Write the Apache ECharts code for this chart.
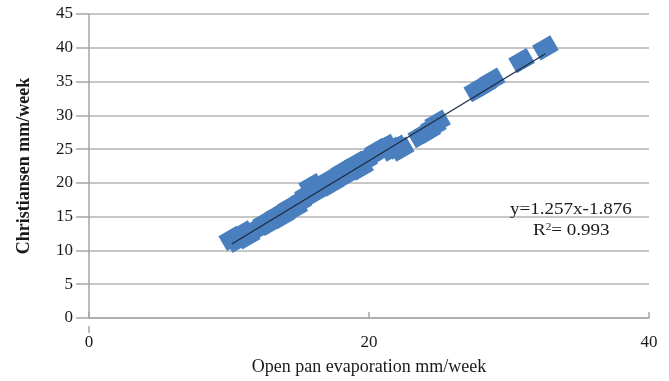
<!DOCTYPE html>
<html>
<head>
<meta charset="utf-8">
<script src="https://cdn.jsdelivr.net/npm/echarts@6/dist/echarts.min.js"></script>
<style>
  html, body { margin: 0; padding: 0; background: #fff; }
  #chart { width: 669px; height: 381px; }
</style>
</head>
<body>
<div id="chart"></div>
<script>
// Weekly evaporation: open pan (x) vs. Christiansen estimate (y), mm/week
const panEvap = [
  10.2, 10.6, 11.0, 11.3, 11.8, 12.3, 12.6, 12.9, 13.2, 13.5,
  13.8, 14.1, 14.4, 14.7, 15.0, 15.3, 15.6, 15.9, 16.1, 16.4,
  16.7, 17.0, 17.3, 17.6, 17.9, 18.2, 18.5, 18.8, 19.1, 19.4,
  19.7, 20.0, 20.3, 20.6, 20.9, 21.2, 21.6, 22.0, 22.3,
  23.7, 24.2, 24.6, 24.9,
  27.7, 28.2, 28.8,
  30.9, 32.6
];
const christiansen = [
  11.8, 11.5, 12.6, 12.0, 13.0, 13.5, 14.2, 14.0, 14.8, 15.3,
  15.0, 16.0, 16.5, 16.2, 17.0, 17.6, 18.3, 19.6, 18.5, 19.0,
  19.6, 20.3, 19.8, 20.6, 21.2, 21.8, 21.3, 22.5, 22.9, 22.2,
  23.2, 23.8, 24.2, 24.8, 25.0, 25.4, 25.0, 25.3, 25.0,
  27.0, 27.6, 28.3, 29.0,
  33.8, 34.4, 35.2,
  38.1, 40.0
];

// Fitted linear trend
const slope = 1.257;
const intercept = -1.876;
const rSquared = 0.993;
const trendRange = [10.2, 32.6];

const xTicks = [0, 20, 40];
const yTicks = [0, 5, 10, 15, 20, 25, 30, 35, 40, 45];

const points = panEvap.map((x, i) => [x, christiansen[i]]);
const trend = trendRange.map(x => [x, slope * x + intercept]);

const serif = '"Liberation Serif", "DejaVu Serif", serif';
const ink = '#1a1a1a';
const chart = echarts.init(document.getElementById('chart'), null, { renderer: 'canvas' });

chart.setOption({
  animation: false,
  backgroundColor: '#ffffff',
  grid: { left: 89, right: 20, top: 14, bottom: 55 },
  xAxis: {
    type: 'value',
    min: xTicks[0],
    max: xTicks[xTicks.length - 1],
    interval: xTicks[1] - xTicks[0],
    name: 'Open pan evaporation mm/week',
    nameLocation: 'middle',
    nameGap: 40,
    nameTextStyle: { fontFamily: serif, fontSize: 18, color: ink },
    axisLine: { show: true, onZero: false, lineStyle: { color: '#a6a6a6', width: 1.5 } },
    axisTick: { show: true, inside: true, length: 6, lineStyle: { color: '#a6a6a6', width: 1.5 } },
    axisLabel: { fontFamily: serif, fontSize: 17, color: ink, margin: 16 },
    splitLine: { show: false }
  },
  yAxis: {
    type: 'value',
    min: yTicks[0],
    max: yTicks[yTicks.length - 1],
    interval: yTicks[1] - yTicks[0],
    name: 'Christiansen mm/week',
    nameLocation: 'middle',
    nameGap: 56,
    nameTextStyle: { fontFamily: serif, fontSize: 18, fontWeight: 'bold', color: ink },
    axisLine: { show: true, onZero: false, lineStyle: { color: '#a6a6a6', width: 1.5 } },
    axisTick: { show: true, length: 13, lineStyle: { color: '#a6a6a6', width: 1.5 } },
    axisLabel: { fontFamily: serif, fontSize: 17, color: ink, margin: 16 },
    splitLine: { show: true, lineStyle: { color: '#b3b3b3', width: 1.5 } }
  },
  series: [
    {
      type: 'scatter',
      data: points,
      symbol: 'rect',
      symbolSize: [21, 17],
      symbolRotate: 30,
      itemStyle: { color: '#4a7fbf', opacity: 1 },
      z: 2
    },
    {
      type: 'line',
      data: trend,
      showSymbol: false,
      symbol: 'none',
      lineStyle: { color: '#1c2a3c', width: 1.2 },
      z: 3
    }
  ],
  graphic: [
    {
      // stub of the y axis below the x axis
      type: 'line',
      shape: { x1: 89, y1: 326, x2: 89, y2: 333 },
      style: { stroke: '#a6a6a6', lineWidth: 1.5 },
      z: 5
    },
    {
      type: 'text',
      x: 510, y: 201,
      scaleX: 1.12,
      style: {
        text: 'y=' + slope.toFixed(3) + 'x' + (intercept < 0 ? '-' : '+') + Math.abs(intercept).toFixed(3),
        font: '17px ' + serif,
        fill: ink
      },
      z: 10
    },
    {
      type: 'text',
      x: 533, y: 222,
      scaleX: 1.12,
      style: {
        rich: {
          b: { font: '17px ' + serif, fill: ink },
          s: { font: '10px ' + serif, fill: ink, verticalAlign: 'top', padding: [0, 0, 8, 0] }
        },
        text: '{b|R}{s|2}{b|= ' + rSquared.toFixed(3) + '}'
      },
      z: 10
    }
  ]
});
</script>
</body>
</html>
